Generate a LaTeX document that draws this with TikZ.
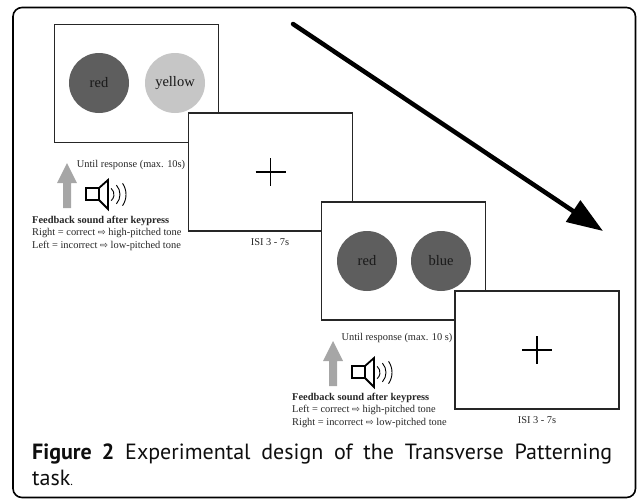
\documentclass[tikz,border=0pt]{standalone}
\usepackage{fontspec}
\setmainfont{Liberation Serif}
\newfontfamily\capfont{PT Sans}
\newfontfamily\symfont{DejaVu Sans}
\usetikzlibrary{arrows.meta}
\definecolor{darkdot}{HTML}{5E5E5E}
\definecolor{lightdot}{HTML}{C6C6C6}
\definecolor{keygray}{HTML}{A6A6A6}
\definecolor{inkgray}{HTML}{262626}
\definecolor{capink}{HTML}{0E0E0E}
\newcommand{\rarr}{{\symfont\fontsize{9.5}{9.5}\selectfont ⇨}}
\begin{document}
\begin{tikzpicture}[x=1pt,y=-1pt,
  screen/.style={draw=inkgray, line width=1.1pt, fill=white, minimum width=164pt, minimum height=118pt, inner sep=0pt, outer sep=0pt},
  dot/.style={circle, minimum size=60pt, inner sep=0pt, font=\fontsize{14.5}{14.5}\selectfont, text=black!90},
  lbl/.style={font=\fontsize{10.4}{12.5}\selectfont, text=inkgray, inner sep=0pt},
  fbline/.style={lbl, anchor=base west},
  plusline/.style={line width=1.6pt, draw=black},
  keyarrow/.style={fill=keygray, draw=none},
  speaker/.style={draw=black, line width=1.8pt, line join=miter},
  wave/.style={draw=black, line width=0.9pt},
  bigarrow/.style={line width=4.5pt, line cap=round, -{Triangle[length=36pt,width=25pt]}}]
\useasboundingbox (0,0) rectangle (637,499);
% outer frame
\draw[line width=1.6pt, rounded corners=9pt] (13,7.5) rectangle (635.5,497.5);

% big time arrow
\coordinate (as) at (293,24);
\coordinate (ae) at (603,231);
\draw[bigarrow] (as) -- (ae);

% screen 1
\node[screen] (b1) at (136.5,83.5) {};
\node[dot, fill=darkdot] (r1) at (99,83) {red};
\node[dot, fill=lightdot] (y1) at (175,83) {yellow};
\node[lbl, anchor=base] (u1) at (131,167) {Until response (max. 10s)};

% screen 2
\node[screen] (b2) at (270.5,172) {};
\draw[plusline] ([xshift=-15pt]b2.center) -- ([xshift=15pt]b2.center);
\draw[plusline] ([yshift=14pt]b2.center) -- ([yshift=-14pt]b2.center);
\node[lbl, anchor=base] (i1) at (270,245) {ISI 3 - 7s};

% feedback 1
\fill[keyarrow] (63,208) -- (63,183) -- (57,183) -- (67,163) -- (77,183) -- (71,183) -- (71,208) -- cycle;
\draw[speaker] (86,188) -- (99,188) -- (108,180) -- (108,209) -- (99,200) -- (86,200) -- cycle;
\draw[speaker] (99,188) -- (99,200);
\draw[wave] (106,194.5) ++(-50:8) arc (-50:50:8);
\draw[wave] (106,194.5) ++(-42:14) arc (-42:42:14);
\draw[wave] (106,194.5) ++(-34:20) arc (-34:34:20);
\node[fbline] (f1a) at (32,223) {\textbf{Feedback sound after keypress}};
\node[fbline] (f1b) at (32,235.5) {Right = correct \rarr{} high-pitched tone};
\node[fbline] (f1c) at (32,248) {Left = incorrect \rarr{} low-pitched tone};

% screen 3
\node[screen] (b3) at (403.5,261) {};
\node[dot, fill=darkdot] (r2) at (367,261) {red};
\node[dot, fill=darkdot] (bl2) at (441,261) {blue};
\node[lbl, anchor=base] (u2) at (397,340.5) {Until response (max. 10 s)};

% screen 4
\node[screen] (b4) at (537,350) {};
\draw[plusline] ([xshift=-15pt]b4.center) -- ([xshift=15pt]b4.center);
\draw[plusline] ([yshift=14pt]b4.center) -- ([yshift=-14pt]b4.center);
\node[lbl, anchor=base] (i2) at (537,423) {ISI 3 - 7s};

% feedback 2
\begin{scope}[shift={(266,178)}]
\fill[keyarrow] (63,208) -- (63,183) -- (57,183) -- (67,163) -- (77,183) -- (71,183) -- (71,208) -- cycle;
\draw[speaker] (86,188) -- (99,188) -- (108,180) -- (108,209) -- (99,200) -- (86,200) -- cycle;
\draw[speaker] (99,188) -- (99,200);
\draw[wave] (106,194.5) ++(-50:8) arc (-50:50:8);
\draw[wave] (106,194.5) ++(-42:14) arc (-42:42:14);
\draw[wave] (106,194.5) ++(-34:20) arc (-34:34:20);
\end{scope}
\node[fbline] (f2a) at (292,400) {\textbf{Feedback sound after keypress}};
\node[fbline] (f2b) at (292,412.5) {Left = correct \rarr{} high-pitched tone};
\node[fbline] (f2c) at (292,425) {Right = incorrect \rarr{} low-pitched tone};

% caption
\node[anchor=base west, inner sep=0pt, text=capink] (cap) at (32,459) {\parbox[t]{580pt}{\capfont\fontsize{22}{26}\selectfont\hyphenpenalty=10000\exhyphenpenalty=10000\textbf{Figure 2} Experimental design of the Transverse Patterning\linebreak task{\fontsize{12}{12}\selectfont.}}};
\end{tikzpicture}
\end{document}
